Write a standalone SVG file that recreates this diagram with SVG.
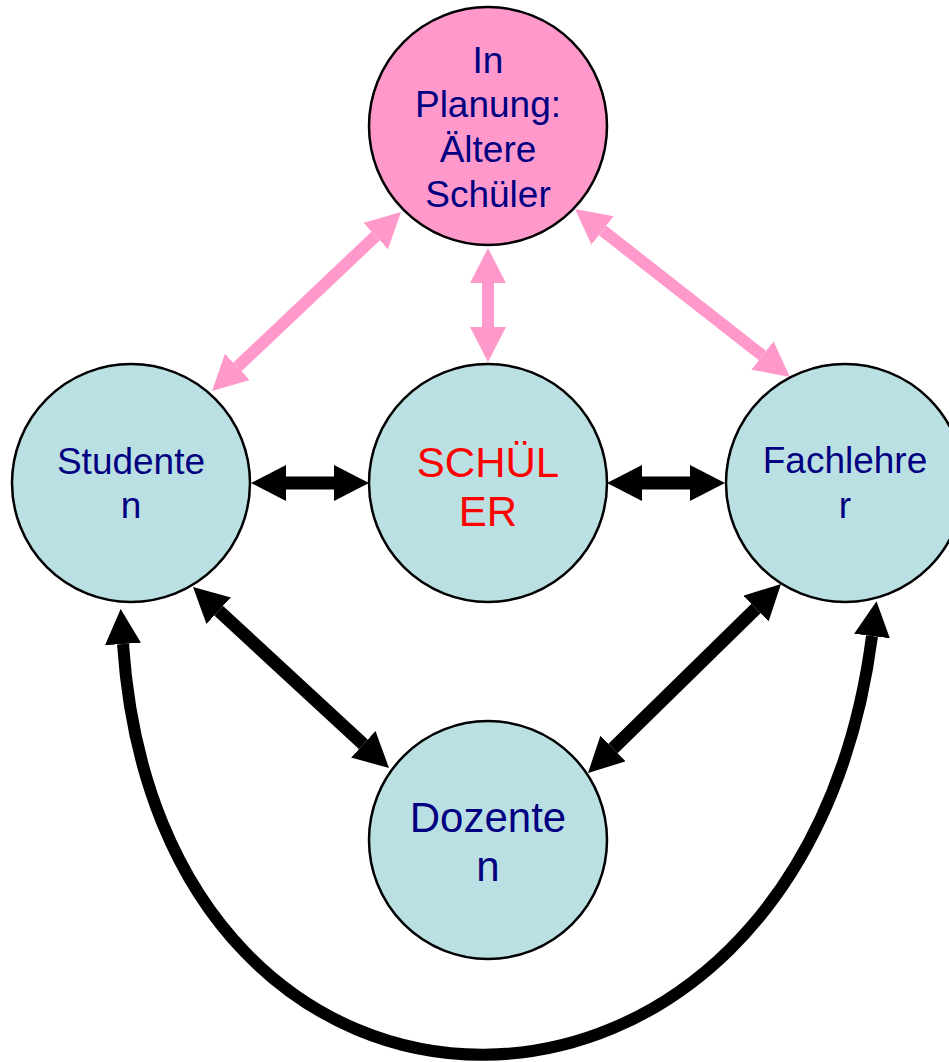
<svg xmlns="http://www.w3.org/2000/svg" width="949" height="1062" viewBox="0 0 949 1062">
<style>
.node{stroke:#000;stroke-width:2.5}
.blue{fill:#BBE0E3}
.pink{fill:#FF99CC}
.t{font-family:"Liberation Sans",Arial,sans-serif;text-anchor:middle;fill:#000080}
.s37{font-size:37px}
.s42{font-size:42px}
.red{fill:#FF0000}
.pk{stroke:#FF99CC;stroke-width:12;fill:none}
.bk{stroke:#000;stroke-width:13;fill:none}
.cv{stroke:#000;stroke-width:12;fill:none}
</style>
<defs>
<marker id="hp" markerUnits="userSpaceOnUse" viewBox="0 -18 35 36" refX="0" refY="0" markerWidth="35" markerHeight="36" orient="auto-start-reverse">
<path d="M0,-18 L35,0 L0,18 Z" fill="#FF99CC"/>
</marker>
<marker id="hb" markerUnits="userSpaceOnUse" viewBox="0 -18 35 36" refX="0" refY="0" markerWidth="35" markerHeight="36" orient="auto-start-reverse">
<path d="M0,-18 L35,0 L0,18 Z" fill="#000"/>
</marker>
</defs>
<g id="connectors">
<line class="pk" x1="237.4" y1="366.9" x2="375.6" y2="236.1" marker-start="url(#hp)" marker-end="url(#hp)"/>
<line class="pk" x1="488" y1="283" x2="488" y2="327" marker-start="url(#hp)" marker-end="url(#hp)"/>
<line class="pk" x1="602.6" y1="230.5" x2="762.4" y2="355.5" marker-start="url(#hp)" marker-end="url(#hp)"/>
<line class="bk" x1="286" y1="483" x2="334" y2="483" marker-start="url(#hb)" marker-end="url(#hb)"/>
<line class="bk" x1="642" y1="483" x2="690" y2="483" marker-start="url(#hb)" marker-end="url(#hb)"/>
<line class="bk" x1="218.7" y1="610.7" x2="363.3" y2="744.3" marker-start="url(#hb)" marker-end="url(#hb)"/>
<line class="bk" x1="756" y1="608.5" x2="613" y2="748.5" marker-start="url(#hb)" marker-end="url(#hb)"/>
<path class="cv" d="M123,644 C160,1193 800,1193 872,636" marker-start="url(#hb)" marker-end="url(#hb)"/>
</g>
<g id="node-aeltere">
<circle class="node pink" cx="488" cy="126" r="119"/>
<text class="t s37"><tspan x="488" y="73">In</tspan><tspan x="488" y="117">Planung:</tspan><tspan x="488" y="162">Ältere</tspan><tspan x="488" y="207">Schüler</tspan></text>
</g>
<g id="node-studenten">
<circle class="node blue" cx="131" cy="483" r="119"/>
<text class="t s37"><tspan x="131" y="474">Studente</tspan><tspan x="131" y="518">n</tspan></text>
</g>
<g id="node-schueler">
<circle class="node blue" cx="488" cy="483" r="119"/>
<text class="t s42 red"><tspan x="488" y="477">SCHÜL</tspan><tspan x="488" y="526">ER</tspan></text>
</g>
<g id="node-fachlehrer">
<circle class="node blue" cx="845" cy="483" r="119"/>
<text class="t s37"><tspan x="845" y="473">Fachlehre</tspan><tspan x="845" y="518">r</tspan></text>
</g>
<g id="node-dozenten">
<circle class="node blue" cx="488" cy="840" r="119"/>
<text class="t s42"><tspan x="488" y="832">Dozente</tspan><tspan x="488" y="881">n</tspan></text>
</g>
</svg>
